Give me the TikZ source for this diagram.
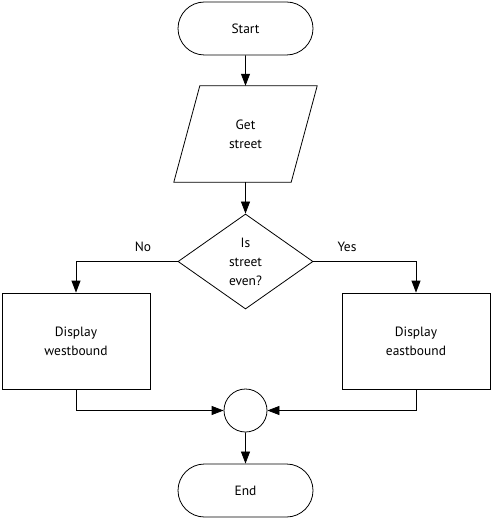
\documentclass[tikz,border=0pt]{standalone}
\usepackage{fontspec}
\setmainfont{PT Sans}
\usetikzlibrary{shapes.geometric,shapes.misc,arrows.meta}
\begin{document}
\begin{tikzpicture}[x=1bp,y=-1bp,
  every node/.style={font=\fontsize{13.5}{19}\selectfont, align=center, inner sep=0pt},
  line/.style={draw=black, line width=0.8bp},
  arr/.style={line, -{Triangle[length=12bp,width=9bp]}},
  term/.style={rounded rectangle, line, minimum width=135bp, minimum height=53bp},
  proc/.style={rectangle, line, minimum width=148bp, minimum height=96bp},
  dec/.style={diamond, line, minimum width=135bp, minimum height=95bp, aspect=1.42},
  junc/.style={circle, line, minimum size=43bp}]
\useasboundingbox (0,0) rectangle (493,518);
\node[term] (start) at (245.5,28.5) {Start};
\node[minimum width=117bp, minimum height=96bp] (get) at (245.5,134) {Get\\street};
\draw[line] ([xshift=13bp]get.north west) -- ([xshift=13bp]get.north east)
  -- ([xshift=-13bp]get.south east) -- ([xshift=-13bp]get.south west) -- cycle;
\node[dec] (dec) at (245.5,261.5) {Is\\street\\even?};
\node[proc] (west) at (76,341) {Display\\westbound};
\node[proc] (east) at (416,341) {Display\\eastbound};
\node[junc] (junc) at (245.5,410.5) {};
\node[term] (end) at (245.5,490.5) {End};
\node (no) at (143,247) {No};
\node (yes) at (347,247) {Yes};
\draw[arr] (start) -- (get);
\draw[arr] (get.south) -- (dec.north);
\draw[arr] (dec.west) -| (west.north);
\draw[arr] (dec.east) -| (east.north);
\draw[arr] (west.south) |- (junc.west);
\draw[arr] (east.south) |- (junc.east);
\draw[arr] (junc) -- (end);
\end{tikzpicture}
\end{document}
